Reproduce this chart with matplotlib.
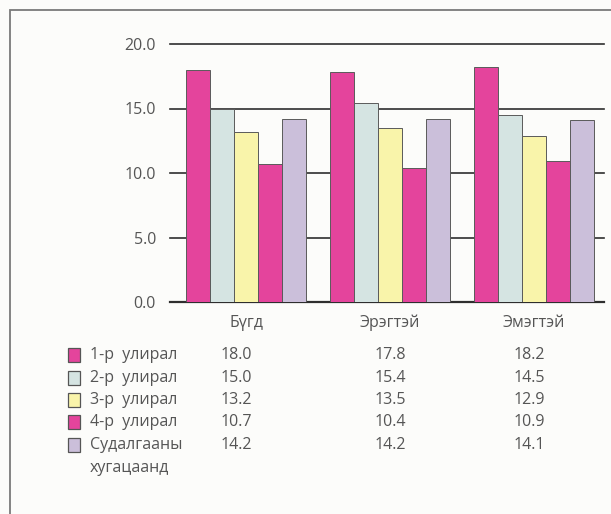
import matplotlib
matplotlib.use("Agg")
import matplotlib.pyplot as plt
from matplotlib.patches import Rectangle
from matplotlib.transforms import blended_transform_factory
import numpy as np

plt.rcParams["font.family"] = ["Open Sans", "DejaVu Sans"]

categories = ["Бүгд", "Эрэгтэй", "Эмэгтэй"]
series_names = ["1-р  улирал", "2-р  улирал", "3-р  улирал", "4-р  улирал", "Судалгааны\nхугацаанд"]
q1 = [18.0, 17.8, 18.2]
q2 = [15.0, 15.4, 14.5]
q3 = [13.2, 13.5, 12.9]
q4 = [10.7, 10.4, 10.9]
period = [14.2, 14.2, 14.1]
y_ticks = [0.0, 5.0, 10.0, 15.0, 20.0]

series = [q1, q2, q3, q4, period]
colors = ["#e4449c", "#d5e4e2", "#f9f4aa", "#e4449c", "#cbbfda"]
text_col = "#555555"

W, H = 611, 514
fig = plt.figure(figsize=(W / 100, H / 100), dpi=100)
fig.patch.set_facecolor("#fcfcfa")

# outer frame, runs off the right and bottom edges
top = 1 - 10 / H
fig.patches.append(Rectangle((10 / W, -0.1), 1.2, top + 0.1, transform=fig.transFigure,
                             fill=False, edgecolor="#7a7a7a", lw=1.3))

ax = fig.add_axes([170 / W, (514 - 302) / H, (604 - 170) / W, (302 - 44) / H])
ax.set_facecolor("none")

x = np.arange(len(categories)) * 6.0
for i, vals in enumerate(series):
    ax.bar(x + (i - 2), vals, width=1.0, color=colors[i], edgecolor="#5a5a5a",
           linewidth=0.7, zorder=3)

for t in y_ticks:
    ax.axhline(t, color="#2e2e2e", lw=1.6 if t == 0 else 1.2, zorder=1, clip_on=False)

ax.set_xlim(-3.17, 14.92)
ax.set_ylim(0, 20)
ax.set_yticks(y_ticks)
ax.set_yticklabels([f"{t:.1f}" for t in y_ticks])
ax.tick_params(axis="y", length=0, pad=10, labelsize=11.5, labelcolor=text_col)
ax.set_xticks([])
for s in ax.spines.values():
    s.set_visible(False)

# category labels and value table, columns follow the group centres
trans = blended_transform_factory(ax.transData, fig.transFigure)
col_x = x + np.array([-0.4, 0, -0.2])
for xi, cat in zip(x, categories):
    ax.text(xi, 1 - 323 / H, cat, transform=trans, ha="center", va="center",
            fontsize=11.5, color=text_col)

row_y = [355, 378, 400, 422, 445]
for r, (name, vals) in enumerate(zip(series_names, series)):
    yy = 1 - row_y[r] / H
    fig.patches.append(Rectangle((68 / W, yy - 7 / H), 12 / W, 14 / H,
                                 transform=fig.transFigure, facecolor=colors[r],
                                 edgecolor="#555555", lw=0.9))
    for k, ln in enumerate(name.split("\n")):
        fig.text(90 / W, yy - k * 23 / H, ln, ha="left", va="center",
                 fontsize=11.5, color=text_col)
    for cx, v in zip(col_x, vals):
        ax.text(cx, yy, f"{v:.1f}", transform=trans, ha="center", va="center",
                fontsize=11.5, color=text_col)

fig.savefig("out.png", dpi=100, facecolor=fig.get_facecolor())
